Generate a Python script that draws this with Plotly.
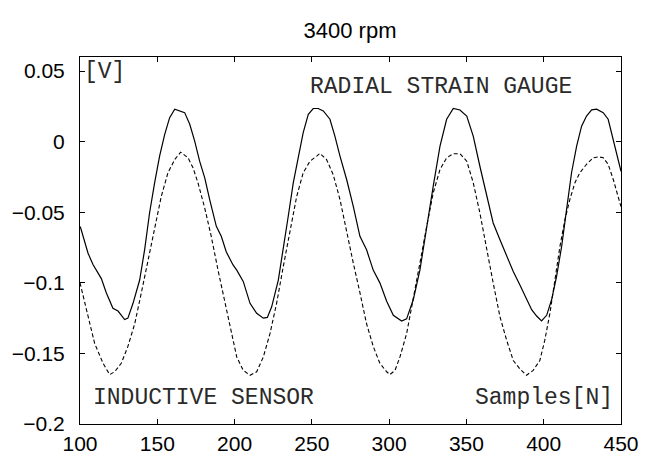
import plotly.graph_objects as go

# Radial strain gauge (solid)
strain_x = [100, 100.4, 105.2, 108.4, 113.8, 117, 121.3, 124.6, 128.9, 131, 134.3, 138.6, 141.8, 145, 148.3,
            151.5, 154.8, 158, 161.3, 164.5, 167.7, 171, 174.2, 177.4, 180.7, 183.9, 188.2, 191.4, 194.6,
            199, 201.4, 205.6, 210, 214.3, 218.6, 221.2, 224, 228.3, 231.5, 234.7, 238, 241.2, 244.4,
            247.7, 250.9, 254.1, 257.4, 261.7, 264.9, 268.2, 272.5, 276.8, 281.1, 285.4, 289.7, 294,
            298.4, 302.7, 308.1, 311.3, 315.6, 319.9, 324.3, 328.5, 332.9, 337.2, 341.5, 345.8, 350.2,
            354.4, 358.7, 363, 367.3, 371.7, 376, 380.3, 384.6, 388.9, 392.2, 395.4, 398.6, 401.9,
            405.1, 408.3, 411.6, 414.8, 418, 421.3, 424.5, 427.7, 431, 434.2, 438.5, 441.7, 445,
            449.3, 450]
strain_y = [-0.060, -0.061, -0.079, -0.087, -0.097, -0.107, -0.118, -0.120, -0.126, -0.125, -0.1145,
            -0.098, -0.0766, -0.0505, -0.029, -0.0102, 0.0052, 0.017, 0.023, 0.022, 0.0206, 0.0123,
            0.0004, -0.0138, -0.0256, -0.041, -0.060, -0.067, -0.078, -0.0873, -0.091, -0.099, -0.1145,
            -0.1216, -0.125, -0.1245, -0.117, -0.098, -0.0766, -0.053, -0.029, -0.0102, 0.0064, 0.0194,
            0.0235, 0.0235, 0.0218, 0.0159, 0.004, -0.0102, -0.0268, -0.0458, -0.067, -0.0766, -0.091,
            -0.100, -0.113, -0.123, -0.127, -0.1255, -0.112, -0.091, -0.060, -0.0316, -0.0031, 0.0159,
            0.0235, 0.0225, 0.0182, 0.004, -0.0174, -0.0387, -0.0576, -0.0695, -0.0814, -0.092,
            -0.1015, -0.112, -0.119, -0.1235, -0.127, -0.123, -0.112, -0.0956, -0.0742, -0.048, -0.022,
            -0.0031, 0.011, 0.0182, 0.0225, 0.023, 0.0206, 0.0159, 0.0016, -0.0185, -0.021]

# Inductive sensor (dashed)
induct_x = [100, 105.2, 109.5, 114.9, 119.2, 122.4, 126.7, 131, 135.4, 139.7, 144, 148.3, 152.6, 156.9,
            161.3, 165.1, 169.9, 173.1, 176.3, 180.7, 184.9, 189.3, 193.6, 197.9, 201.4, 205.6, 210,
            214.3, 218.6, 222.9, 227.2, 231.5, 235.8, 240.2, 244.4, 248.8, 253.1, 255.2, 259.5, 263.8,
            268.2, 272.5, 276.8, 281.1, 285.4, 289.7, 294, 298.4, 300.5, 303.8, 307, 311.3, 315.6,
            319.9, 324.3, 328.5, 332.9, 337.2, 341.5, 345.8, 350.2, 354.4, 358.7, 363, 367.3, 371.7,
            376, 380.3, 384.6, 388.9, 393.2, 397.5, 400.7, 404, 407.2, 410.5, 413.7, 416.9, 420.2,
            423.4, 427.7, 432, 435.3, 438.5, 441.7, 445, 449.3, 450]
induct_y = [-0.100, -0.124, -0.143, -0.157, -0.165, -0.163, -0.157, -0.145, -0.129, -0.107, -0.084,
            -0.060, -0.0387, -0.022, -0.0126, -0.0074, -0.0114, -0.0185, -0.029, -0.047, -0.067,
            -0.091, -0.112, -0.1335, -0.1525, -0.162, -0.1655, -0.163, -0.1525, -0.136, -0.1145,
            -0.0885, -0.0624, -0.0387, -0.022, -0.0138, -0.0102, -0.0083, -0.0126, -0.0233, -0.041,
            -0.0647, -0.086, -0.107, -0.129, -0.145, -0.157, -0.163, -0.165, -0.162, -0.1525, -0.136,
            -0.112, -0.086, -0.060, -0.0363, -0.0197, -0.0114, -0.0085, -0.0085, -0.0138, -0.029,
            -0.0505, -0.0766, -0.100, -0.124, -0.1406, -0.155, -0.161, -0.1655, -0.162, -0.155,
            -0.1406, -0.1216, -0.098, -0.0742, -0.0553, -0.041, -0.029, -0.022, -0.016, -0.0114,
            -0.0107, -0.0114, -0.016, -0.0268, -0.0434, -0.046]

x_ticks = [100, 150, 200, 250, 300, 350, 400, 450]
y_ticks = [-0.2, -0.15, -0.1, -0.05, 0, 0.05]
y_tick_text = ["\u22120.2", "\u22120.15", "\u22120.1", "\u22120.05", "0", "0.05"]

fig = go.Figure()
fig.add_trace(go.Scatter(x=strain_x, y=strain_y, mode="lines",
                         line=dict(color="black", width=1.2), name="Radial strain gauge"))
fig.add_trace(go.Scatter(x=induct_x, y=induct_y, mode="lines",
                         line=dict(color="black", width=1.1, dash="4px,2.5px"), name="Inductive sensor"))

mono = dict(family="Liberation Mono, Courier New, monospace", size=23, color="#2a2a2a")
fig.add_annotation(x=101.5, y=0.0495, text="[V]", showarrow=False, xanchor="left", yanchor="middle", font=mono)
fig.add_annotation(x=333.8, y=0.0386, text="RADIAL STRAIN GAUGE", showarrow=False, xanchor="center", yanchor="middle", font=mono)
fig.add_annotation(x=179.9, y=-0.1819, text="INDUCTIVE SENSOR", showarrow=False, xanchor="center", yanchor="middle", font=mono)
fig.add_annotation(x=446, y=-0.1819, text="Samples[N]", showarrow=False, xanchor="right", yanchor="middle", font=mono)

tickfont = dict(family="Liberation Sans, Arial, sans-serif", size=21, color="black")
axis_common = dict(showline=True, linecolor="black", linewidth=1, mirror="ticks", ticks="inside",
                   ticklen=5, tickcolor="black", showgrid=False, zeroline=False, tickfont=tickfont)

# the page body adds an 8px offset, so margins are shifted accordingly
fig.update_layout(
    width=660, height=457,
    margin=dict(l=72, r=47, t=49, b=41, autoexpand=False),
    paper_bgcolor="white", plot_bgcolor="white",
    showlegend=False,
    title=dict(text="3400 rpm", x=342/660, xanchor="center", y=1 - 22/457, yanchor="middle",
               font=dict(family="Liberation Sans, Arial, sans-serif", size=22, color="black")),
    xaxis=dict(range=[100, 450], tickvals=x_ticks, ticktext=[str(v) for v in x_ticks],
               ticklabelstandoff=1, **axis_common),
    yaxis=dict(range=[-0.2, 0.06], tickvals=y_ticks, ticktext=y_tick_text,
               ticklabelstandoff=10, **axis_common),
)

fig.write_html("out.html")
